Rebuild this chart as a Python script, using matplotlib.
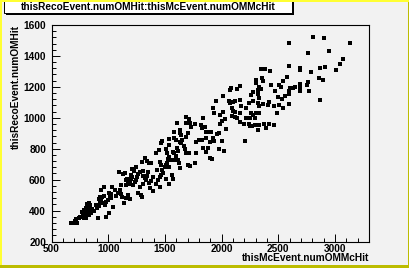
import matplotlib.pyplot as plt
from matplotlib.patches import Rectangle

# thisMcEvent.numOMMcHit (x) vs thisRecoEvent.numOMHit (y)
x_mc = [
    673, 691, 709, 726, 703, 717, 738, 753, 770, 782, 800, 820, 835, 829, 791, 806,
    776, 762, 812, 841, 859, 870, 850, 829, 800, 782, 790, 800, 815, 825, 840, 820,
    810, 830, 908, 976, 1005, 894, 917, 900, 923, 938, 947, 961, 953, 967, 982, 997,
    1011, 1026, 1005, 961, 938, 917, 929, 1035, 1055, 1041, 1026, 1070, 1085, 1100, 1114,
    1105, 1123, 1135, 1158, 1173, 1094, 1114, 1129, 1144, 1188, 1152, 1164, 1173, 1188,
    1202, 1211, 1194, 1217, 1232, 1241, 1252, 1264, 1276, 1223, 1202, 1211, 1241, 1158,
    1261, 1291, 1299, 1276, 1305, 1320, 1341, 1358, 1364, 1379, 1393, 1349, 1305, 1299,
    1320, 1341, 1358, 1379, 1305, 1329, 1393, 1423, 1438, 1452, 1467, 1482, 1429, 1452,
    1467, 1476, 1496, 1505, 1517, 1534, 1526, 1555, 1540, 1564, 1570, 1540, 1505, 1458,
    1423, 1446, 1467, 1476, 1505, 1517, 1534, 1534, 1570, 1584, 1605, 1614, 1599, 1584,
    1614, 1623, 1629, 1605, 1629, 1634, 1643, 1652, 1643, 1664, 1673, 1687, 1711, 1702,
    1717, 1687, 1687, 1711, 1723, 1731, 1761, 1702, 1687, 1776, 1799, 1761, 1776, 1599,
    1584, 1584, 1629,
    2593, 2804, 2901, 3128, 2760, 2945, 3075, 3048, 3007, 2916, 2869, 2787, 2598, 2687,
    2693, 2343, 2381, 2431, 2578, 2540, 2358, 2363, 2299, 2299, 2164, 2134, 2084, 2070,
    2011, 1946, 2158, 2122, 2099, 2075, 2064, 2093, 2099, 2122, 2158, 2175, 2216, 2240,
    2281, 2261, 2281, 2319, 2334, 2349, 2319, 2328, 2319, 2334, 2369, 2407, 2422, 2466,
    2510, 2540, 2487, 2534, 2555, 2593, 2593, 2604, 2628, 2643, 2687, 2687, 2693, 2760,
    2751, 2769, 2863, 2898, 2869, 2510, 2525, 2437, 2475, 2496, 2598, 2261, 2275, 2305,
    2328, 2290, 2246, 2216, 2158, 2193, 2240, 2246, 2269, 2290, 2334, 2378, 2422, 2466,
    2387, 2319, 2202, 2040, 1987, 2005, 1987, 2011, 1937, 1928, 2034, 2093, 2114, 2134,
    1840, 1820, 1849, 1829, 1878, 1864, 1908, 1858, 1829, 1923, 1937, 1958, 1981, 2005,
    1893, 1840, 1878, 1864, 1981, 2017, 1893, 1917,
]
y_reco = [
    322, 322, 322, 322, 335, 344, 350, 361, 393, 404, 415, 426, 436, 451, 378, 365,
    372, 361, 393, 404, 408, 400, 382, 372, 350, 350, 390, 400, 410, 400, 390, 380,
    440, 420, 350, 356, 387, 436, 430, 415, 451, 469, 486, 495, 447, 436, 458, 469,
    495, 479, 516, 555, 533, 473, 486, 551, 533, 426, 507, 495, 512, 522, 507,
    533, 490, 451, 479, 501, 652, 566, 637, 646, 473, 598, 602, 581, 594,
    602, 615, 572, 566, 587, 598, 615, 637, 652, 658, 630, 667, 680, 566,
    512, 501, 490, 551, 572, 609, 624, 581, 544, 594, 615, 652, 658, 717,
    738, 723, 710, 710, 624, 598, 529, 572, 598, 615, 630, 646, 663, 717,
    695, 663, 684, 695, 710, 749, 732, 727, 680, 630, 602, 572, 602, 551,
    771, 792, 835, 853, 797, 771, 861, 825, 781, 775, 803, 788, 753, 727,
    727, 710, 674, 965, 922, 904, 889, 857, 835, 818, 797, 771, 775, 695,
    689, 965, 1008, 991, 965, 943, 960, 904, 874, 846, 857, 710, 771, 857,
    868, 911, 846,
    1482, 1521, 1515, 1482, 1418, 1433, 1381, 1346, 1310, 1327, 1321, 1299, 1336, 1325,
    1308, 1316, 1316, 1303, 1262, 1239, 1256, 1239, 1245, 1224, 1208, 1187, 1195, 1180,
    1144, 1109, 1116, 1109, 1101, 1094, 1109, 1066, 1044, 1036, 1029, 1073, 1066, 1094,
    1109, 1148, 1165, 1180, 1202, 1187, 1152, 1126, 1094, 1073, 1088, 1083, 1101, 1073,
    1083, 1066, 1029, 1122, 1144, 1152, 1170, 1195, 1195, 1200, 1191, 1170, 1217, 1230,
    1213, 1170, 1260, 1245, 1116, 1213, 1202, 1213, 1174, 1137, 1090, 1029, 1019, 1029,
    1029, 1001, 997, 1001, 975, 958, 958, 950, 950, 954, 954, 958, 958, 954,
    932, 922, 850, 928, 958, 980, 1019, 1036, 1029, 1062, 993, 1014, 1008, 1001,
    997, 954, 943, 932, 911, 906, 906, 872, 857, 868, 850, 894, 900, 850,
    846, 803, 807, 777, 799, 786, 743, 732,
]

x_ticks = [500, 1000, 1500, 2000, 2500, 3000]
y_ticks = [200, 400, 600, 800, 1000, 1200, 1400, 1600]
title = "thisRecoEvent.numOMHit:thisMcEvent.numOMMcHit"
x_label = "thisMcEvent.numOMMcHit"
y_label = "thisRecoEvent.numOMHit"

W, H = 410, 268
BG = "#f2f2f2"
FONT = "Liberation Sans"


def fx(px):
    return px / W


def fy(py):
    # py measured from the top of the image
    return 1 - py / H


fig = plt.figure(figsize=(W / 100, H / 100), dpi=100, facecolor=BG)
ax = fig.add_axes([fx(51.6), fy(241.5), fx(369) - fx(51.6), fy(25) - fy(241.5)])
ax.set_facecolor(BG)

ax.plot(x_mc, y_reco, linestyle="none", marker="s", markersize=2.2,
        markeredgewidth=0, color="black")

ax.set_xlim(500, 3300)
ax.set_ylim(200, 1600)
ax.set_xticks(x_ticks)
ax.set_yticks(y_ticks)
ax.set_xticks(range(500, 3300, 100), minor=True)
ax.set_yticks(range(200, 1601, 40), minor=True)
ax.tick_params(which="both", direction="in", top=False, right=False, width=0.7,
               labelsize=7.3, colors="black")
ax.tick_params(which="major", length=5.5)
ax.tick_params(which="minor", length=2.7)
ax.tick_params(axis="x", pad=1.5)
ax.tick_params(axis="y", pad=4)
for lab in ax.get_xticklabels() + ax.get_yticklabels():
    lab.set_fontfamily(FONT)
    lab.set_fontweight("bold")
for sp in ax.spines.values():
    sp.set_linewidth(0.8)

fig.text(fx(369), fy(258), x_label, ha="right", va="center", fontsize=7.3,
         fontfamily=FONT, fontweight="bold")
fig.text(fx(16), fy(25), y_label, ha="center", va="top", rotation=90, fontsize=7.3,
         fontfamily=FONT, fontweight="bold")

# title box with shadow
fig.add_artist(Rectangle((fx(6), fy(15)), fx(288), fy(0) - fy(15),
                         transform=fig.transFigure, facecolor="black", edgecolor="none"))
fig.add_artist(Rectangle((fx(4), fy(13)), fx(288), fy(0) - fy(13),
                         transform=fig.transFigure, facecolor="white", edgecolor="black",
                         linewidth=0.7))
fig.text(fx(148), fy(6.5), title, ha="center", va="center", fontsize=7.3,
         fontfamily=FONT, fontweight="bold")

# canvas bevel border
fig.add_artist(Rectangle((0, fy(268)), 1, fy(265) - fy(268), transform=fig.transFigure,
                         facecolor="#bcbc00", edgecolor="none"))
fig.add_artist(Rectangle((fx(408), 0), fx(2), 1, transform=fig.transFigure,
                         facecolor="#bcbc00", edgecolor="none"))
fig.add_artist(Rectangle((0, fy(2)), 1, fy(0) - fy(2), transform=fig.transFigure,
                         facecolor="#ffff33", edgecolor="none"))
fig.add_artist(Rectangle((0, fy(265)), fx(2), 1, transform=fig.transFigure,
                         facecolor="#ffff33", edgecolor="none"))

fig.savefig("out.png", dpi=100, facecolor=BG)
